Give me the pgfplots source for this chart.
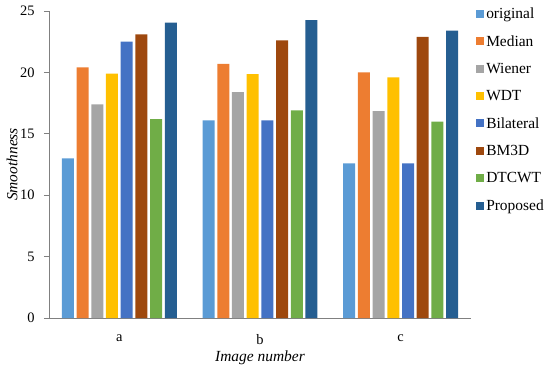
\documentclass[border=0pt]{standalone}
\usepackage{pgfplots}
\pgfplotsset{compat=1.18}
\usepackage{fontspec}
\setmainfont{Liberation Serif}
\definecolor{cOrig}{HTML}{5B9BD5}
\definecolor{cMed}{HTML}{ED7D31}
\definecolor{cWie}{HTML}{A5A5A5}
\definecolor{cWDT}{HTML}{FFC000}
\definecolor{cBil}{HTML}{4472C4}
\definecolor{cBM}{HTML}{9E480E}
\definecolor{cDT}{HTML}{70AD47}
\definecolor{cPro}{HTML}{255E91}
\definecolor{axgray}{HTML}{808080}
\begin{document}
\begin{tikzpicture}
\begin{axis}[
  scale only axis,
  width=422bp, height=307bp,
  ybar=2.7bp, bar width=12bp,
  xmin=-0.5, xmax=2.5, ymin=0, ymax=25,
  xtick={0,1,2}, xticklabels={a,b,c},
  ytick={0,5,10,15,20,25},
  axis x line*=bottom, axis y line*=left,
  axis line style={axgray, line width=0.8pt},
  x tick style={draw=none},
  y tick style={axgray, line width=0.8pt},
  major tick length=5bp,
  tick align=outside,
  /pgf/number format/assume math mode=true,
  tick label style={font=\fontsize{14.5}{16}\selectfont},
  yticklabel style={xshift=-6bp},
  xticklabel style={yshift=-8bp},
  label style={font=\fontsize{15.5}{17}\selectfont\itshape},
  xlabel={Image number},
  ylabel={Smoothness},
  xlabel style={at={(axis description cs:0.5,-0.13)}, anchor=center},
  ylabel style={at={(axis description cs:-0.0877,0.5)}, anchor=center},
  legend style={at={(axis description cs:1.012,1.018)}, anchor=north west, draw=none, fill=none,
    font=\fontsize{15.5}{17}\selectfont, row sep=11.5bp, inner sep=0pt,
    /tikz/every even column/.append style={column sep=2bp}},
  legend cell align=left,
  legend image code/.code={\fill[#1] (0bp,-4bp) rectangle (8bp,4bp);},
]
\addplot[fill=cOrig, draw=none] coordinates {(0,13.0) (1,16.1) (2,12.6)};
\addplot[fill=cMed, draw=none] coordinates {(0,20.4) (1,20.7) (2,20.0)};
\addplot[fill=cWie, draw=none] coordinates {(0,17.4) (1,18.4) (2,16.85)};
\addplot[fill=cWDT, draw=none] coordinates {(0,19.9) (1,19.85) (2,19.6)};
\addplot[fill=cBil, draw=none] coordinates {(0,22.5) (1,16.1) (2,12.6)};
\addplot[fill=cBM, draw=none] coordinates {(0,23.1) (1,22.6) (2,22.9)};
\addplot[fill=cDT, draw=none] coordinates {(0,16.2) (1,16.9) (2,16.0)};
\addplot[fill=cPro, draw=none] coordinates {(0,24.05) (1,24.25) (2,23.4)};
\legend{original,Median,Wiener,WDT,Bilateral,BM3D,DTCWT,Proposed}
\end{axis}
\pgfresetboundingbox
\path[use as bounding box] (-49bp,-51bp) rectangle (501bp,318bp);
\end{tikzpicture}
\end{document}
